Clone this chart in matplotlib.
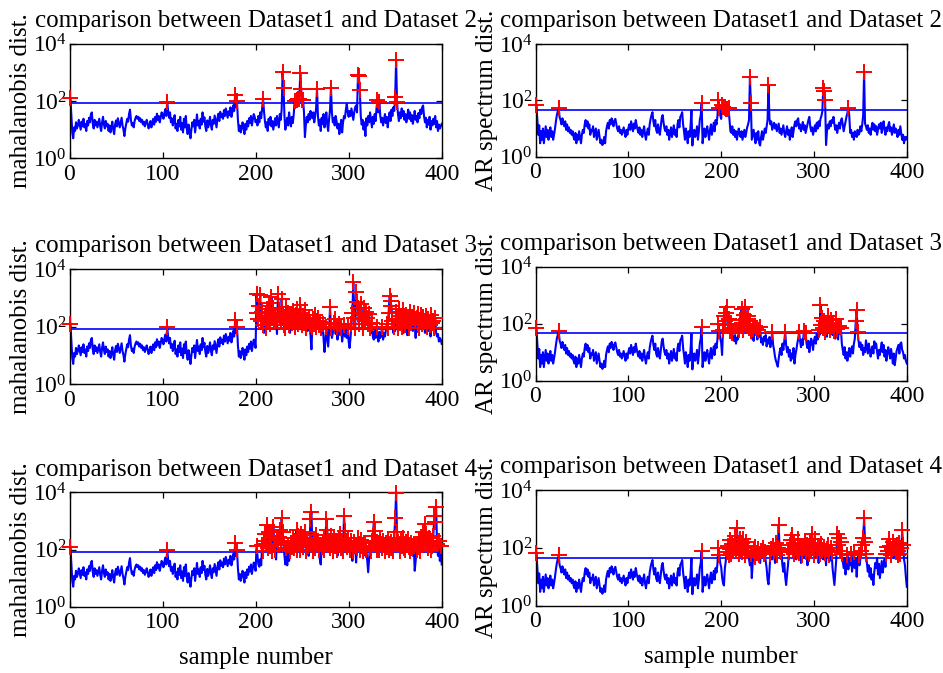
import numpy as np
import matplotlib
matplotlib.use("Agg")
import matplotlib.pyplot as plt
from matplotlib.ticker import FixedLocator, NullLocator, LogFormatterMathtext

plt.rcParams['font.family'] = ['Liberation Serif', 'DejaVu Serif']
plt.rcParams['mathtext.fontset'] = 'custom'
plt.rcParams['mathtext.rm'] = 'Liberation Serif'
plt.rcParams['mathtext.it'] = 'Liberation Serif:italic'

# ---------------- data ----------------
# first 200 samples (Dataset1), shared by every row
maha_train = [
    125, 30, 8, 5, 12, 9, 18, 11, 14, 22,
    15, 10, 19, 13, 24, 12, 16, 9, 20, 14,
    26, 18, 34, 40, 16, 11, 22, 14, 19, 12,
    17, 24, 13, 9, 18, 28, 15, 11, 20, 13,
    16, 9, 14, 8, 12, 19, 10, 7, 15, 21,
    13, 25, 17, 12, 18, 26, 14, 10, 6, 11,
    16, 24, 19, 35, 50, 22, 14, 17, 12, 20,
    26, 30, 24, 28, 20, 25, 18, 22, 15, 19,
    13, 17, 22, 16, 11, 14, 20, 12, 18, 24,
    15, 28, 19, 36, 22, 30, 18, 26, 40, 33,
    24, 38, 52, 30, 93, 45, 26, 40, 18, 25,
    14, 20, 32, 11, 16, 9, 22, 13, 28, 10,
    17, 8, 24, 12, 30, 11, 7, 15, 9, 5,
    10, 18, 13, 22, 8, 16, 34, 14, 20, 11,
    24, 15, 40, 19, 27, 13, 9, 21, 12, 17,
    28, 14, 10, 22, 16, 31, 19, 12, 25, 36,
    20, 42, 27, 35, 24, 48, 30, 55, 38, 26,
    44, 32, 60, 28, 40, 70, 45, 168, 60, 98,
    22, 9, 14, 8, 11, 18, 12, 7, 16, 10,
    20, 13, 25, 17, 30, 14, 22, 35, 28, 18]

ar_train = [
    68, 20, 6, 13, 3, 8, 4, 10, 3, 6,
    12, 5, 9, 4, 7, 11, 5, 8, 4, 6,
    10, 18, 30, 40, 55, 25, 20, 14, 23, 16,
    12, 18, 9, 14, 8, 11, 7, 9, 6, 8,
    5, 4, 7, 3, 6, 4, 8, 5, 3, 6,
    9, 7, 14, 20, 12, 18, 10, 14, 6, 9,
    8, 12, 5, 7, 10, 4, 6, 9, 5, 3,
    4, 2.6, 3, 5, 3, 8, 12, 16, 10, 20,
    14, 23, 17, 12, 19, 22, 15, 10, 8, 12,
    7, 9, 6, 8, 11, 7, 5, 9, 6, 10,
    14, 9, 18, 12, 8, 15, 10, 20, 13, 9,
    7, 11, 6, 9, 5, 8, 12, 6, 4, 7,
    10, 6, 14, 22, 30, 38, 18, 12, 20, 9,
    7, 14, 8, 6, 12, 24, 30, 16, 10, 8,
    12, 6, 9, 4, 7, 11, 5, 8, 13, 6,
    9, 5, 14, 20, 11, 26, 30, 38, 14, 8,
    4, 10, 6, 3, 8, 5, 12, 44, 2.5, 6,
    9, 5, 7, 12, 4, 8, 20, 30, 78, 3,
    6, 10, 5, 8, 12, 7, 4, 9, 14, 6,
    10, 16, 8, 20, 14, 28, 100, 55, 30, 22]

# samples 201-400 for each compared dataset
maha_ds2 = [
    22, 14, 30, 18, 40, 25, 55, 122, 45, 20,
    12, 18, 9, 24, 15, 28, 13, 20, 10, 16,
    25, 14, 30, 19, 12, 35, 22, 50, 1000, 290,
    30, 10, 18, 26, 14, 40, 20, 13, 28, 17,
    35, 100, 60, 110, 105, 115, 120, 950, 260, 108,
    112, 40, 5.5, 15, 28, 18, 35, 22, 45, 30,
    25, 40, 18, 30, 55, 270, 30, 14, 22, 9,
    26, 16, 35, 12, 20, 40, 15, 9, 24, 50,
    285, 40, 18, 25, 14, 30, 20, 11, 16, 7,
    13, 22, 8, 18, 30, 25, 50, 80, 40, 28,
    45, 30, 55, 35, 22, 40, 60, 70, 40, 800,
    720, 250, 30, 15, 22, 10, 18, 6, 25, 14,
    30, 18, 40, 22, 12, 28, 16, 35, 20, 60,
    107, 40, 95, 30, 18, 26, 14, 22, 35, 17,
    28, 12, 24, 40, 20, 50, 30, 60, 45, 140,
    2600, 93, 35, 20, 40, 25, 55, 30, 45, 22,
    35, 18, 28, 50, 24, 40, 20, 32, 16, 26,
    45, 22, 30, 18, 38, 25, 50, 35, 60, 70,
    30, 18, 26, 12, 22, 15, 28, 10, 20, 14,
    24, 16, 30, 12, 20, 9, 15, 11, 13, 16]

maha_ds3 = [
    1300, 300, 180, 500, 1200, 150, 320, 110, 60, 240,
    90, 400, 180, 650, 120, 300, 1100, 200, 450, 140,
    250, 160, 55, 1300, 380, 220, 140, 900, 260, 110,
    180, 90, 480, 150, 300, 110, 60, 220, 130, 350,
    170, 95, 260, 140, 400, 120, 200, 550, 160, 110,
    240, 130, 380, 90, 170, 70, 200, 110, 50, 16,
    100, 180, 120, 260, 95, 150, 200, 110, 140, 90,
    60, 120, 40, 13, 30, 100, 45, 20, 70, 480,
    90, 40, 60, 130, 180, 55, 100, 35, 70, 120,
    50, 90, 30, 60, 110, 45, 70, 40, 100, 30,
    18, 40, 120, 300, 3500, 200, 90, 1600, 700, 450,
    120, 300, 600, 180, 90, 450, 260, 150, 330, 200,
    120, 280, 90, 60, 130, 45, 35, 70, 40, 100,
    50, 30, 65, 40, 55, 100, 35, 60, 45, 75,
    120, 90, 300, 1150, 800, 500, 150, 60, 100, 70,
    320, 180, 90, 400, 130, 240, 100, 380, 60, 200,
    110, 260, 50, 150, 90, 320, 130, 220, 70, 300,
    160, 40, 200, 110, 280, 90, 170, 250, 120, 210,
    140, 60, 230, 100, 180, 70, 110, 45, 250, 130,
    160, 90, 200, 60, 45, 55, 30, 40, 35, 25]

maha_ds4 = [
    130, 60, 30, 25, 45, 28, 140, 90, 200, 350,
    150, 720, 110, 400, 250, 130, 300, 90, 600, 160,
    100, 45, 220, 140, 280, 500, 180, 1230, 400, 150,
    60, 30, 110, 28, 140, 40, 90, 170, 120, 260,
    110, 200, 140, 480, 95, 300, 150, 100, 350, 180,
    120, 250, 420, 90, 200, 130, 60, 160, 1200, 2100,
    140, 90, 230, 110, 320, 150, 200, 100, 45, 30,
    120, 180, 100, 260, 160, 1200, 480, 140, 200, 110,
    300, 150, 90, 250, 130, 180, 100, 60, 140, 220,
    350, 110, 180, 90, 1500, 450, 200, 120, 250, 140,
    100, 200, 150, 40, 90, 180, 130, 35, 110, 250,
    160, 100, 220, 130, 90, 170, 120, 60, 100, 40,
    16, 50, 110, 90, 200, 300, 900, 450, 150, 100,
    180, 130, 95, 250, 160, 110, 200, 140, 90, 170,
    120, 230, 100, 150, 190, 110, 140, 90, 250, 1230,
    9500, 400, 180, 150, 90, 200, 130, 250, 110, 160,
    100, 190, 140, 230, 120, 90, 170, 110, 60, 130,
    18, 40, 100, 160, 120, 200, 90, 280, 140, 400,
    230, 800, 350, 150, 110, 250, 180, 100, 200, 130,
    300, 1500, 900, 3150, 150, 60, 200, 40, 130, 30]

ar_ds2 = [
    70, 60, 35, 55, 50, 48, 30, 52, 20, 8,
    7, 12, 6, 9, 5, 8, 4, 7, 10, 6,
    5, 8, 4, 6, 9, 5, 7, 11, 14, 20,
    690, 78, 4, 6, 9, 5, 3, 7, 4, 8,
    3, 2.5, 5, 8, 4, 6, 10, 7, 12, 20,
    350, 23, 14, 18, 9, 12, 16, 10, 14, 8,
    11, 15, 7, 10, 6, 9, 13, 7, 5, 8,
    12, 6, 9, 4, 7, 11, 5, 8, 14, 18,
    12, 20, 23, 10, 14, 8, 12, 17, 9, 13,
    7, 10, 14, 20, 26, 12, 8, 11, 6, 9,
    13, 8, 16, 10, 18, 12, 22, 28, 40, 270,
    220, 100, 2.6, 8, 14, 10, 18, 12, 20, 16,
    26, 14, 9, 13, 7, 11, 16, 10, 19, 23,
    14, 8, 12, 18, 26, 35, 52, 30, 7, 9,
    5, 7, 4, 8, 6, 5, 9, 6, 7, 12,
    8, 14, 30, 1000, 15, 12, 9, 13, 7, 10,
    6, 11, 16, 9, 14, 8, 12, 6, 9, 14,
    10, 16, 7, 12, 18, 9, 6, 11, 8, 13,
    17, 8, 11, 6, 9, 14, 7, 10, 8, 5,
    9, 6, 12, 7, 4, 6, 3, 5, 4, 5]

ar_ds3 = [
    8, 60, 180, 120, 230, 400, 90, 150, 70, 55,
    100, 48, 30, 25, 40, 20, 32, 28, 60, 140,
    80, 330, 110, 60, 200, 400, 150, 90, 180, 70,
    120, 55, 30, 65, 25, 80, 40, 70, 28, 60,
    35, 75, 22, 30, 18, 35, 25, 40, 16, 28,
    20, 34, 15, 25, 50, 18, 12, 7, 5, 4,
    3.1, 6, 10, 14, 8, 20, 12, 25, 50, 18,
    10, 15, 7, 12, 5, 9, 6, 14, 4, 8,
    12, 20, 30, 50, 25, 15, 28, 18, 55, 30,
    48, 20, 14, 25, 10, 18, 30, 22, 12, 26,
    35, 20, 45, 28, 60, 40, 470, 90, 160, 70,
    120, 50, 75, 35, 180, 90, 60, 130, 80, 40,
    110, 55, 30, 150, 65, 28, 85, 45, 70, 20,
    12, 8, 15, 6, 10, 5, 9, 14, 7, 11,
    16, 9, 20, 30, 120, 300, 50, 25, 15, 22,
    12, 18, 8, 14, 10, 26, 15, 9, 20, 13,
    7, 11, 16, 9, 24, 14, 20, 10, 6, 12,
    8, 14, 22, 10, 18, 7, 12, 5, 9, 15,
    10, 6, 13, 8, 4, 9, 3.5, 6, 11, 14,
    18, 9, 20, 22, 12, 10, 6, 8, 5, 4]

ar_ds4 = [
    10, 6, 5, 20, 35, 70, 120, 55, 180, 90,
    60, 140, 80, 110, 250, 75, 480, 130, 60, 200,
    90, 150, 70, 210, 100, 55, 160, 80, 120, 40,
    25, 60, 9, 30, 75, 50, 110, 40, 65, 90,
    55, 30, 80, 45, 100, 60, 70, 35, 20, 8,
    5.5, 15, 60, 90, 40, 120, 75, 30, 150, 55,
    100, 620, 85, 45, 70, 25, 15, 30, 10, 5.2,
    12, 25, 70, 130, 180, 275, 90, 150, 60, 110,
    40, 80, 200, 65, 120, 30, 55, 100, 45, 170,
    70, 130, 25, 90, 60, 150, 80, 300, 110, 55,
    200, 45, 75, 120, 30, 95, 60, 140, 85, 40,
    110, 65, 25, 90, 130, 55, 35, 100, 70, 20,
    10, 5.2, 15, 40, 300, 130, 220, 80, 160, 60,
    35, 20, 45, 12, 30, 55, 18, 40, 25, 60,
    15, 30, 70, 20, 45, 10, 35, 55, 25, 40,
    80, 130, 215, 1050, 160, 60, 30, 15, 25, 10,
    20, 8, 12, 5.2, 15, 30, 20, 45, 12, 28,
    9, 18, 35, 14, 25, 40, 22, 60, 110, 75,
    200, 120, 55, 90, 160, 45, 100, 70, 130, 55,
    80, 150, 60, 95, 400, 130, 40, 25, 10, 4.5]

maha_threshold = 85
ar_threshold = 46
dataset_names = ["Dataset 2", "Dataset 3", "Dataset 4"]
maha_tests = [maha_ds2, maha_ds3, maha_ds4]
ar_tests = [ar_ds2, ar_ds3, ar_ds4]
x_ticks = [0, 100, 200, 300, 400]
y_ticks = [1, 100, 10000]

# ---------------- figure ----------------
W, H = 943, 673
fig = plt.figure(figsize=(W / 100, H / 100), dpi=100)


def pos(x0, top, x1, bottom):
    return [x0 / W, 1 - bottom / H, (x1 - x0) / W, (bottom - top) / H]


left_pos = [(69.5, 43.7, 441.7, 158.3), (69.5, 269.0, 441.7, 384.0), (69.5, 492.3, 441.7, 606.7)]
right_pos = [(535.5, 44.0, 906.8, 156.7), (535.5, 266.7, 906.8, 380.7), (535.5, 490.0, 906.8, 605.7)]


def draw(ax, vals, thr, ylabel, title, xlabel=None):
    y = np.array(vals, dtype=float)
    x = np.arange(1, len(y) + 1)
    ax.plot(x, y, color='#0000ff', lw=1.5, zorder=2)
    ax.axhline(thr, color='#0000ff', lw=1.2, zorder=2)
    m = y > thr
    ax.plot(x[m], y[m], linestyle='none', marker='+', color='#ff0000',
            markersize=12, markeredgewidth=1.4, zorder=3, clip_on=False)
    ax.set_yscale('log')
    ax.set_xlim(0, 400)
    ax.set_ylim(1, 10000)
    ax.xaxis.set_major_locator(FixedLocator(x_ticks))
    ax.yaxis.set_major_locator(FixedLocator(y_ticks))
    ax.yaxis.set_major_formatter(LogFormatterMathtext())
    ax.yaxis.set_minor_locator(NullLocator())
    ax.xaxis.set_minor_locator(NullLocator())
    ax.tick_params(direction='in', top=True, right=True, length=4, width=0.9,
                   labelsize=17)
    ax.tick_params(axis='x', pad=4)
    ax.tick_params(axis='y', pad=2)
    for s in ax.spines.values():
        s.set_linewidth(1.0)
    ax.set_ylabel(ylabel, fontsize=18, labelpad=1)
    ax.set_title(title, fontsize=18, pad=12)
    if xlabel:
        ax.set_xlabel(xlabel, fontsize=18, labelpad=10)


for i in range(3):
    axl = fig.add_axes(pos(*left_pos[i]))
    draw(axl, maha_train + maha_tests[i], maha_threshold, 'mahalanobis dist.',
         'comparison between Dataset1 and ' + dataset_names[i],
         'sample number' if i == 2 else None)
    axr = fig.add_axes(pos(*right_pos[i]))
    draw(axr, ar_train + ar_tests[i], ar_threshold, 'AR spectrum dist.',
         'comparison between Dataset1 and ' + dataset_names[i],
         'sample number' if i == 2 else None)

fig.savefig('out.png', dpi=100)
